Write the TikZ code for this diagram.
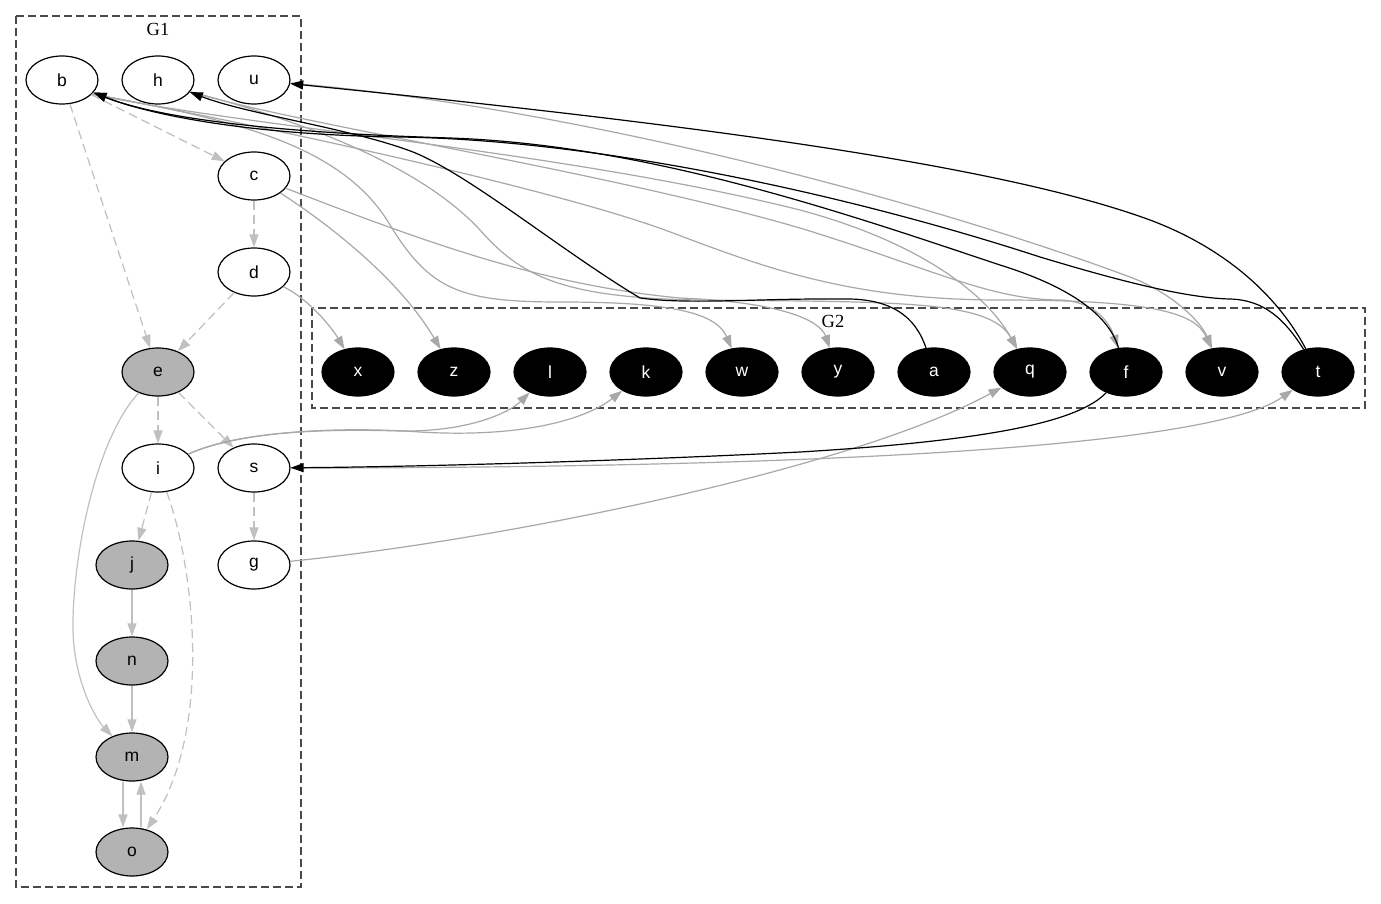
\documentclass[tikz,border=0pt]{standalone}
\usepackage{fontspec}
\setmainfont{Liberation Serif}
\newfontfamily\nodefont{Liberation Sans}
\usetikzlibrary{shapes.geometric,arrows.meta}
\definecolor{edgegray}{HTML}{A8A8A8}
\definecolor{lightgraytwo}{HTML}{C0C0C0}
\definecolor{fillgray}{HTML}{B3B3B3}
\definecolor{clustergray}{HTML}{4A4A4A}
\begin{document}
\begin{tikzpicture}[x=1pt,y=-1pt,
  nd/.style={ellipse,draw=black,line width=1.2pt,minimum width=72pt,minimum height=48pt,inner sep=0pt,font=\nodefont\fontsize{17.5}{20}\selectfont},
  wn/.style={nd,fill=white},
  gn/.style={nd,fill=fillgray},
  bn/.style={nd,fill=black,text=white},
  cl/.style={draw=clustergray,dash pattern=on 8pt off 4pt,line width=1.3pt},
  tip/.style={-{Triangle[length=13pt,width=9pt]}},
  ie/.style={tip,draw=lightgraytwo,line width=1.2pt,dash pattern=on 9pt off 5pt},
  is/.style={tip,draw=lightgraytwo,line width=1.2pt},
  xe/.style={tip,draw=edgegray,line width=1.2pt},
  be/.style={tip,draw=black,line width=1.2pt},
  lab/.style={font=\fontsize{18.5}{21}\selectfont,inner sep=0pt}
]
\useasboundingbox[fill=white] (0,0) rectangle (1381,904);
% clusters
\draw[cl] (16,16) rectangle (301,887);
\node[lab] (G1lab) at (158,29) {G1};
\draw[cl] (312,308) rectangle (1365,408);
\node[lab] (G2lab) at (833,321) {G2};
% G1 nodes
\node[wn] (b) at (62,80) {b};
\node[wn] (h) at (158,80) {h};
\node[wn] (u) at (254,80) {u};
\node[wn] (c) at (254,176) {c};
\node[wn] (d) at (254,272) {d};
\node[gn] (e) at (158,372) {e};
\node[wn] (i) at (158,468) {i};
\node[wn] (s) at (254,468) {s};
\node[gn] (j) at (132,565) {j};
\node[wn] (g) at (254,565) {g};
\node[gn] (n) at (132,661) {n};
\node[gn] (m) at (132,757) {m};
\node[gn] (o) at (132,852) {o};
% G2 nodes
\node[bn] (x) at (358,372) {x};
\node[bn] (z) at (454,372) {z};
\node[bn] (l) at (550,372) {l};
\node[bn] (k) at (646,372) {k};
\node[bn] (w) at (742,372) {w};
\node[bn] (y) at (838,372) {y};
\node[bn] (a) at (934,372) {a};
\node[bn] (q) at (1030,372) {q};
\node[bn] (f) at (1126,372) {f};
\node[bn] (v) at (1222,372) {v};
\node[bn] (t) at (1318,372) {t};
% internal G1 edges
\draw[ie] (b) -- (c);
\draw[ie] (b) -- (e);
\draw[ie] (c) -- (d);
\draw[ie] (d) -- (e);
\draw[ie] (e) -- (i);
\draw[ie] (e) -- (s);
\draw[ie] (i) -- (j);
\draw[ie] (s) -- (g);
\draw[ie] (i) .. controls (195,570) and (212,730) .. (o);
\draw[is] (e) .. controls (95,440) and (72,560) .. (73,630) .. controls (74,680) and (95,718) .. (m);
\draw[is] (j) -- (n);
\draw[is] (n) -- (m);
\draw[is] ([xshift=-9pt]m.south) -- ([xshift=-9pt]o.north);
\draw[is] ([xshift=9pt]o.north) -- ([xshift=9pt]m.south);
% gray edges into G2
\draw[xe] (d) .. controls (310,300) and (332,328) .. (x);
\draw[xe] (c) .. controls (330,225) and (400,280) .. (z);
\draw[xe] (c) .. controls (420,240) and (540,285) .. (680,298) .. controls (780,302) and (820,320) .. (y);
\draw[xe] (b.-25) .. controls (220,118) and (340,140) .. (390,225) .. controls (430,290) and (460,302) .. (560,302) .. controls (660,302) and (715,310) .. (w);
\draw[xe] (b.-25) .. controls (250,128) and (560,150) .. (800,210) .. controls (930,245) and (990,300) .. (q);
\draw[xe] (h.-20) .. controls (300,120) and (420,165) .. (480,230) .. controls (520,275) and (560,298) .. (700,300) .. controls (900,302) and (990,300) .. (q);
\draw[xe] (h.-20) .. controls (300,125) and (600,170) .. (800,228) .. controls (930,268) and (990,300) .. (1060,300) .. controls (1090,301) and (1108,318) .. (f);
\draw[xe] (b.-25) .. controls (260,125) and (560,190) .. (673,233) .. controls (763,267) and (850,300) .. (1000,300) .. controls (1150,300) and (1195,312) .. (v);
\draw[xe] (u) .. controls (600,110) and (950,210) .. (1130,277) .. controls (1170,292) and (1200,320) .. (v);
% gray edges from lower G1
\draw[xe] (i) .. controls (230,435) and (300,428) .. (400,431) .. controls (470,432) and (510,412) .. (l);
\draw[xe] (i) .. controls (230,435) and (320,425) .. (420,432) .. controls (520,438) and (585,420) .. (k);
\draw[xe] (s) .. controls (700,468) and (1200,455) .. (t);
\draw[xe] (g) .. controls (500,540) and (850,470) .. (q);
% black edges
\draw[be] (t) .. controls (1280,300) and (1230,250) .. (1150,220) .. controls (1000,165) and (700,125) .. (u);
\draw[be] (t) .. controls (1285,320) and (1265,300) .. (1230,299) .. controls (1180,298) and (1100,275) .. (1040,257) .. controls (850,195) and (600,140) .. (400,137) .. controls (250,135) and (150,115) .. (b);
\draw[be] (f) .. controls (1110,320) and (1080,290) .. (1000,265) .. controls (850,215) and (650,145) .. (450,138) .. controls (250,132) and (150,115) .. (b);
\draw[be] (a) .. controls (915,315) and (890,300) .. (850,299) .. controls (760,298) and (690,305) .. (640,298) .. controls (560,250) and (470,175) .. (413,152) .. controls (350,128) and (250,115) .. (h);
\draw[be] (f) .. controls (1080,420) and (1000,440) .. (800,452) .. controls (600,462) and (400,467) .. (s);
\end{tikzpicture}
\end{document}
